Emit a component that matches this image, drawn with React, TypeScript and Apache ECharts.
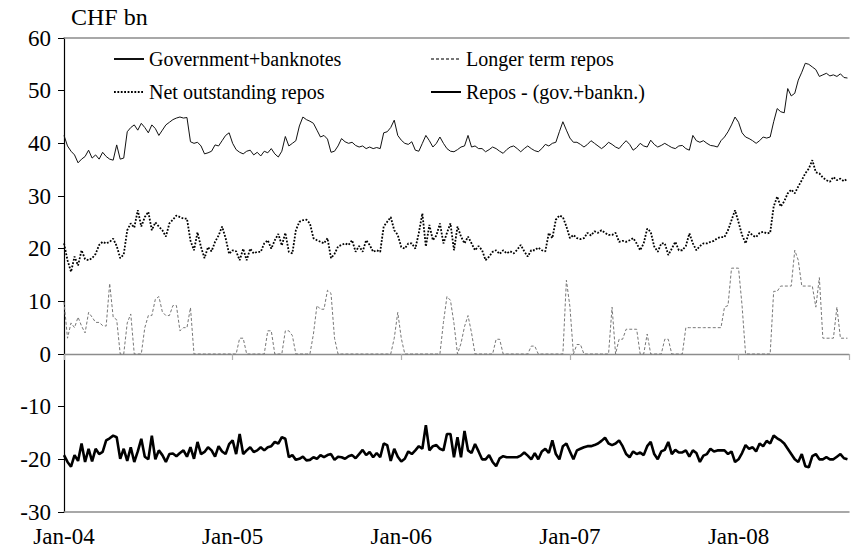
import React, { useEffect, useRef } from "react";
import * as echarts from "echarts";

// Weekly-ish sampling grid: 4 observations per month, Jan-2004 .. Aug-2008
const START_YEAR = 2004;
const STEPS_PER_YEAR = 48;
const X_MAX = 2008.655;
const Y_MIN = -30;
const Y_MAX = 60;
const Y_STEP = 10;

const UNIT_LABEL = "CHF bn";
const NAME_GOV = "Government+banknotes";
const NAME_LONG = "Longer term repos";
const NAME_NET = "Net outstanding repos";
const NAME_DIFF = "Repos - (gov.+bankn.)";

// CHF bn, one row per month (4 values)
const govBanknotes = [
  41.5, 39.5, 38.5, 37.8,
  36.3, 37.0, 37.5, 38.7,
  37.2, 37.8, 37.0, 38.3,
  37.5, 37.0, 36.8, 39.7,
  37.0, 37.2, 42.2, 43.0,
  43.5, 42.5, 43.8, 43.0,
  42.0, 43.5, 42.8, 41.5,
  42.5, 43.5, 44.0, 44.5,
  44.8, 45.0, 44.8, 44.9,
  40.3, 40.0, 40.2, 39.5,
  38.0, 38.2, 38.5, 39.7,
  39.5, 40.5, 41.5, 42.0,
  40.0, 38.8, 38.3, 38.0,
  38.5, 38.7, 37.8, 38.3,
  37.6, 38.5, 38.2, 39.0,
  38.0, 37.4, 38.5, 41.3,
  39.5, 40.0, 40.5, 43.3,
  45.0, 44.5, 44.2, 43.8,
  42.5, 41.2, 41.5, 40.8,
  38.3, 38.5, 39.5, 40.9,
  40.3, 40.0, 40.2, 39.6,
  39.3, 39.5, 39.0, 39.3,
  39.0, 39.2, 39.0, 42.0,
  42.2, 43.0, 44.4, 41.5,
  40.6, 40.0, 39.8, 40.3,
  38.7, 38.5, 40.0, 41.5,
  40.5, 39.3, 40.0, 41.2,
  40.0, 39.0, 38.5, 38.4,
  38.8, 39.3, 39.5, 41.5,
  39.3, 39.5, 39.0, 39.0,
  38.4, 38.8, 39.3, 39.0,
  38.5, 38.1, 38.8, 39.3,
  39.5, 39.0, 38.4, 39.0,
  39.5, 39.0, 38.6, 38.4,
  39.0, 39.8, 39.5, 40.0,
  40.2, 42.2, 44.1, 42.5,
  41.0, 40.2, 40.2, 39.8,
  39.3, 39.8, 40.5, 40.0,
  39.5, 39.0, 39.5, 40.2,
  39.8, 39.3, 39.0, 39.8,
  40.5, 39.8, 38.7, 39.2,
  40.0, 39.5, 39.3, 40.6,
  39.8, 39.3, 39.6, 40.0,
  39.6, 39.2, 39.0, 39.5,
  39.6, 39.0, 38.7, 41.5,
  40.5, 40.2, 40.5, 40.0,
  39.6, 39.5, 39.3, 40.5,
  41.2, 42.2, 43.5, 45.0,
  44.0, 42.0, 41.2, 40.9,
  40.5, 40.0, 40.5, 41.2,
  41.0, 41.2, 44.1, 46.6,
  46.0, 45.8, 50.4, 49.0,
  49.5, 52.0, 53.5, 55.2,
  55.0, 54.5, 54.0, 52.7,
  53.0, 53.3, 52.8, 53.0,
  52.7, 53.2, 52.5, 52.4,
];

const netOutstandingRepos = [
  21.0, 17.8, 15.6, 18.5,
  16.8, 19.7, 18.0, 17.8,
  18.2, 19.0, 20.7, 21.3,
  21.0, 21.3, 21.9, 20.5,
  18.2, 18.9, 23.5, 24.8,
  24.0, 27.3, 24.2, 26.0,
  27.0, 23.5, 25.0, 24.2,
  23.5, 22.3, 24.8, 25.5,
  26.3, 26.0, 25.7, 25.7,
  21.5, 19.7, 23.1, 20.3,
  18.2, 20.3, 19.5, 21.3,
  22.5, 24.2, 22.0, 19.0,
  19.7, 19.5, 17.8, 20.0,
  17.8, 20.0, 19.1, 19.4,
  19.4, 21.0, 21.6, 20.0,
  21.6, 22.8, 20.6, 23.0,
  19.4, 19.1, 23.5, 25.1,
  25.4, 25.5, 24.8, 22.0,
  21.6, 21.3, 21.0, 22.0,
  18.2, 19.0, 20.4, 20.7,
  21.0, 20.7, 21.6, 19.4,
  20.5, 19.4, 21.6, 20.7,
  19.4, 19.7, 19.4, 24.2,
  25.1, 26.0, 23.5, 22.6,
  20.3, 20.0, 21.0, 21.0,
  20.0, 23.0, 26.7, 20.4,
  24.5, 21.6, 22.5, 24.8,
  21.0, 23.0, 24.8, 19.7,
  24.2, 22.3, 21.0, 22.3,
  21.0, 19.7, 20.5, 19.7,
  17.8, 18.5, 19.4, 19.7,
  19.0, 19.7, 19.1, 19.5,
  19.1, 19.8, 20.7, 19.5,
  18.5, 19.7, 19.7, 20.2,
  19.7, 19.5, 23.0, 22.0,
  25.5, 26.3, 26.0, 24.2,
  22.0, 22.6, 22.0, 21.8,
  22.0, 23.0, 22.5, 23.3,
  23.0, 23.5, 23.0, 22.6,
  22.6, 23.0, 21.3, 21.5,
  21.3, 21.6, 22.0, 21.0,
  19.7, 21.0, 23.8, 23.2,
  20.4, 19.4, 21.0, 21.0,
  18.8, 20.0, 21.3, 19.7,
  19.7, 20.5, 22.9, 21.0,
  19.7, 20.5, 21.0, 21.0,
  21.3, 21.5, 22.0, 22.2,
  22.2, 23.5, 25.4, 27.3,
  25.0, 22.6, 21.0, 23.2,
  22.5, 22.2, 23.0, 23.2,
  22.9, 23.0, 28.0, 29.9,
  28.0, 29.0, 30.5, 31.2,
  30.5, 31.8, 33.0, 34.3,
  35.2, 36.8, 34.5, 34.3,
  33.5, 33.0, 32.7, 33.6,
  33.0, 33.3, 32.8, 33.3,
];

const longerTermRepos = [
  9.9, 3.0, 5.9, 5.0,
  7.0, 5.3, 4.0, 7.9,
  7.0, 6.0, 6.0, 5.4,
  5.3, 13.4, 7.0, 6.5,
  0, 0, 5.9, 7.6,
  0, 0, 0, 5.0,
  7.3, 7.3, 10.4, 10.9,
  8.0, 7.3, 7.3, 9.2,
  9.2, 4.4, 5.0, 5.0,
  8.8, 0, 0, 0,
  0, 0, 0, 0,
  0, 0, 0, 0,
  0, 0, 3.0, 3.0,
  0, 0, 0, 0,
  0, 0, 4.4, 4.4,
  0, 0, 0, 4.4,
  4.4, 3.5, 0, 0,
  0, 0, 0, 3.8,
  9.2, 8.5, 8.5, 12.1,
  11.5, 3.0, 0, 0,
  0, 0, 0, 0,
  0, 0, 0, 0,
  0, 0, 0, 0,
  0, 0, 3.0, 7.9,
  3.0, 0, 0, 0,
  0, 0, 0, 0,
  0, 0, 0, 0,
  6.0, 10.9, 10.2, 5.8,
  0, 2.0, 5.2, 7.3,
  4.0, 0, 0, 0,
  0, 0, 0, 2.8,
  2.8, 0, 0, 0,
  0, 0, 0, 0,
  0, 1.5, 1.5, 0,
  0, 0, 0, 0,
  0, 0, 0, 14.0,
  9.0, 0, 1.8, 1.8,
  0, 0, 0, 0,
  0, 0, 0, 0,
  8.9, 0, 2.8, 2.8,
  4.7, 4.7, 4.7, 4.7,
  0, 0, 3.8, 0,
  0, 0, 0, 2.8,
  2.8, 0, 0, 0,
  0, 5.0, 5.0, 5.0,
  5.0, 5.0, 5.0, 5.0,
  5.0, 5.0, 5.0, 5.0,
  8.9, 9.2, 16.3, 16.3,
  16.3, 9.2, 0, 0,
  0, 0, 0, 0,
  0, 0, 11.9, 11.9,
  12.9, 12.9, 12.9, 12.9,
  19.7, 17.8, 12.9, 12.9,
  12.9, 12.9, 8.9, 14.5,
  3.0, 3.0, 3.0, 3.0,
  8.9, 3.0, 3.0, 3.0,
];

const reposMinusGov = [
  -19.2, -20.5, -21.4, -19.2,
  -20.3, -17.0, -20.5, -18.0,
  -20.4, -18.0, -19.0, -18.6,
  -16.4, -16.0, -15.5, -15.8,
  -19.9, -18.0, -20.3, -17.7,
  -20.5, -18.5, -16.1, -19.5,
  -20.0, -15.5, -20.0, -18.3,
  -19.2, -20.5, -19.0, -18.9,
  -19.4, -18.8, -18.3, -19.5,
  -17.7, -19.9, -16.7, -19.0,
  -18.6, -17.7, -18.3, -19.5,
  -17.5, -18.5, -19.0, -17.1,
  -16.4, -19.0, -15.2, -19.0,
  -18.3, -17.7, -18.6, -18.3,
  -17.7, -18.3, -17.7, -17.5,
  -16.7, -17.0, -15.8, -16.1,
  -19.6, -19.2, -20.1, -19.9,
  -19.5, -20.2, -20.1, -19.6,
  -19.9, -19.2, -19.6, -19.2,
  -19.0, -20.1, -19.5, -19.6,
  -19.9, -19.4, -19.2, -19.8,
  -19.0, -18.2, -19.2, -18.6,
  -19.6, -18.8, -19.6, -17.0,
  -17.3, -20.3, -18.0, -19.5,
  -20.4, -19.9, -18.5, -19.0,
  -18.3, -17.5, -18.0, -13.5,
  -18.3, -17.5, -17.3, -18.0,
  -18.3, -15.2, -15.2, -19.6,
  -15.8, -19.6, -14.6, -18.3,
  -18.8, -17.1, -18.5, -20.0,
  -20.0, -19.2, -20.5, -21.3,
  -19.8, -19.4, -19.6, -19.6,
  -19.6, -19.6, -19.3, -18.7,
  -19.3, -20.0, -18.8, -20.0,
  -18.5, -18.0, -18.8, -16.4,
  -19.0, -20.0, -17.5, -17.0,
  -18.5, -20.0, -18.3, -18.0,
  -17.7, -17.5, -17.5, -17.3,
  -17.0, -16.5, -15.9, -17.0,
  -17.3, -17.0, -16.4, -17.5,
  -19.0, -19.6, -18.5, -19.0,
  -18.7, -19.2, -17.5, -16.7,
  -19.0, -20.0, -18.5, -18.2,
  -16.7, -19.0, -18.2, -18.7,
  -18.7, -18.3, -19.5, -18.3,
  -18.8, -20.5, -19.3, -19.0,
  -18.0, -18.5, -18.3, -18.3,
  -18.3, -19.0, -18.5, -20.5,
  -20.0, -18.8, -17.3, -18.0,
  -17.7, -18.5, -17.0, -17.5,
  -16.5, -17.0, -15.5, -16.0,
  -16.4, -17.0, -18.0, -19.0,
  -20.0, -20.5, -19.0, -21.3,
  -21.5, -19.4, -19.0, -20.0,
  -20.0, -19.6, -20.0, -20.0,
  -19.5, -19.0, -19.8, -20.0,
];

const FONT = "Liberation Serif";
const AXIS_GRAY = "#8c8c8c";

const toPoints = (vals: number[]) =>
  vals.map((v, i) => [START_YEAR + i / STEPS_PER_YEAR, v]);

const yearLabel = (v: number) =>
  Number.isInteger(v) ? "Jan-" + String(v).slice(2) : "";

export default function App() {
  const ref = useRef<HTMLDivElement>(null);

  useEffect(() => {
    if (!ref.current) return;
    const chart = echarts.init(ref.current, undefined, { renderer: "svg" });
    const xBase = {
      type: "value" as const,
      min: START_YEAR,
      max: X_MAX,
      interval: 1,
      splitLine: { show: false },
    };
    const legendBase = {
      orient: "vertical" as const,
      top: 49,
      padding: 0,
      itemWidth: 30,
      itemHeight: 12,
      itemGap: 13,
      itemStyle: { opacity: 0 },
      textStyle: { fontFamily: FONT, fontSize: 20, color: "#000" },
    };
    chart.setOption({
      animation: false,
      textStyle: { fontFamily: FONT, color: "#000" },
      title: {
        text: UNIT_LABEL,
        left: 71,
        top: 5,
        padding: 0,
        textStyle: { fontFamily: FONT, fontSize: 24, fontWeight: "normal", color: "#000" },
      },
      grid: { left: 64, right: 0, top: 38, bottom: 41, containLabel: false },
      legend: [
        { ...legendBase, data: [NAME_GOV, NAME_NET], left: 113 },
        { ...legendBase, data: [NAME_LONG, NAME_DIFF], left: 430 },
      ],
      xAxis: [
        {
          ...xBase,
          position: "bottom",
          axisLine: { onZero: false, lineStyle: { color: AXIS_GRAY, width: 1.5 } },
          axisTick: { show: false },
          axisLabel: {
            formatter: yearLabel,
            fontFamily: FONT,
            fontSize: 23,
            color: "#000",
            margin: 13,
          },
        },
        {
          ...xBase,
          position: "top",
          axisLine: { onZero: false, lineStyle: { color: AXIS_GRAY, width: 1.5 } },
          axisTick: { show: false },
          axisLabel: { show: false },
        },
        {
          ...xBase,
          position: "bottom",
          axisLine: { onZero: true, lineStyle: { color: AXIS_GRAY, width: 1.3 } },
          axisTick: { show: true, inside: false, length: 6, lineStyle: { color: "#b0b0b0", width: 1.2 } },
          axisLabel: { show: false },
        },
      ],
      yAxis: {
        type: "value",
        min: Y_MIN,
        max: Y_MAX,
        interval: Y_STEP,
        splitLine: { show: false },
        axisLine: { show: true, onZero: false, lineStyle: { color: "#000", width: 1.2 } },
        axisTick: { show: true, length: 6, lineStyle: { color: "#000", width: 1 } },
        axisLabel: { fontFamily: FONT, fontSize: 23, color: "#000", margin: 13 },
      },
      series: [
        {
          name: NAME_GOV,
          type: "line",
          xAxisIndex: 0,
          data: toPoints(govBanknotes),
          symbol: "none",
          color: "#111",
          lineStyle: { color: "#111", width: 1 },
        },
        {
          name: NAME_LONG,
          type: "line",
          xAxisIndex: 0,
          data: toPoints(longerTermRepos),
          symbol: "none",
          color: "#777",
          lineStyle: { color: "#777", width: 1, type: [3, 2] },
        },
        {
          name: NAME_NET,
          type: "line",
          xAxisIndex: 0,
          data: toPoints(netOutstandingRepos),
          symbol: "none",
          color: "#000",
          lineStyle: { color: "#000", width: 1.8, type: [1.8, 1.6] },
        },
        {
          name: NAME_DIFF,
          type: "line",
          xAxisIndex: 0,
          data: toPoints(reposMinusGov),
          symbol: "none",
          color: "#000",
          lineStyle: { color: "#000", width: 2.6 },
        },
      ],
    });
    return () => chart.dispose();
  }, []);

  return (
    <div
      ref={ref}
      style={{ position: "fixed", left: 0, top: 0, width: 852, height: 553, background: "#fff" }}
    />
  );
}
